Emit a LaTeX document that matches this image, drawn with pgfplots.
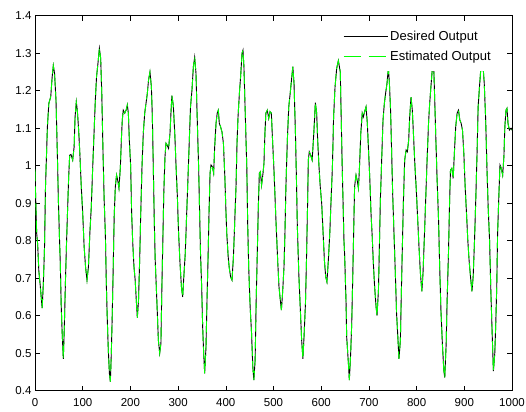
\documentclass[border=0pt]{standalone}
\usepackage{fontspec}
\setmainfont{Liberation Sans}
\usepackage{pgfplots}
\usepackage{pgfplotstable}
\pgfplotsset{compat=1.18}
\definecolor{estgreen}{RGB}{0,255,0}

% values (same curve for both series)
\pgfplotstableread{
t y
0 0.99
1 0.935
3.5 0.82
5.6 0.79
8 0.72
11 0.68
15 0.62
17.5 0.686
20 0.784
22 0.944
24 1.024
26 1.104
29 1.166
33 1.184
36 1.237
38.4 1.267
41 1.246
44 1.175
47 1.024
49 0.908
51 0.82
53 0.74
55 0.624
57 0.553
59.4 0.485
61.5 0.57
64 0.70
66 0.79
68.5 0.89
70.6 0.97
72.7 1.028
75.5 1.03
79 1.015
82 1.05
84 1.13
86.6 1.17
88.7 1.148
91.5 1.095
94 1.033
97 0.944
100 0.873
103 0.784
106 0.73
109 0.695
112 0.73
115 0.82
118 0.89
121 0.997
124 1.095
126.5 1.175
129 1.237
132 1.273
135 1.313
137.7 1.286
140 1.193
142.5 1.04
145 0.908
147.5 0.82
149.5 0.686
151.6 0.588
153.7 0.508
156 0.446
158 0.424
160 0.5
162 0.606
164 0.73
166 0.864
168.4 0.944
171 0.975
174 0.957
176 0.94
179 0.997
181 1.068
183 1.122
185 1.148
188 1.14
191 1.148
193.6 1.162
195.7 1.14
197.8 1.068
200.6 0.997
202.6 0.873
204.7 0.80
207.5 0.73
210 0.695
212.4 0.64
214.5 0.595
217 0.64
219.4 0.748
221.5 0.864
224.3 0.997
227 1.086
230 1.14
232.7 1.166
235.5 1.193
238 1.228
241 1.25
244 1.21
246 1.13
248 0.997
250 0.855
252 0.748
254 0.686
256.5 0.606
258.6 0.535
261.4 0.50
264 0.526
266 0.677
268 0.80
270 0.926
272.5 1.024
274.6 1.06
277 1.055
280 1.046
283 1.086
285 1.14
287 1.187
290 1.16
293 1.086
296 0.99
298.4 0.92
301 0.82
304 0.74
307 0.677
309.6 0.65
312 0.704
315 0.766
318 0.873
320.8 0.97
323.5 1.068
326 1.157
329 1.2
332 1.264
334.7 1.289
337.5 1.246
340 1.13
343 0.997
345 0.882
347 0.766
349.4 0.677
351.5 0.57
353.6 0.50
355.7 0.446
358.5 0.517
360.6 0.642
362.7 0.748
364.8 0.873
367 0.98
369 1.002
372 0.997
374.5 0.98
376.7 1.05
379.5 1.113
382 1.14
384.3 1.148
386.4 1.113
389 1.104
392 1.09
395 1.06
398 0.97
400 0.89
402 0.82
405 0.757
407 0.73
410 0.704
413 0.695
416 0.757
418.6 0.846
421.4 0.944
423.5 1.06
425.6 1.13
428.5 1.193
431.5 1.246
434 1.30
436 1.308
438 1.264
441 1.13
444 0.997
446 0.837
448 0.73
451 0.624
454 0.553
456.6 0.464
458.8 0.428
461.5 0.482
463.7 0.642
466 0.766
468 0.882
470.3 0.98
472.4 0.984
475 0.948
478 0.98
480 1.006
482 1.086
484 1.14
487 1.148
490 1.126
492.7 1.144
495.5 1.14
498 1.068
501 0.988
504 0.89
506 0.828
509 0.74
511.5 0.677
514.3 0.642
516.5 0.615
519 0.66
522 0.73
524 0.82
526 0.944
529 1.068
532 1.157
535 1.193
537.7 1.228
540.5 1.264
543 1.22
546 1.086
548 0.97
550 0.837
553 0.713
556 0.624
559 0.535
561.6 0.485
564 0.544
567 0.633
569 0.74
571.5 0.90
573 1.015
575 1.037
578 1.028
581 1.015
583.6 1.068
585.6 1.113
587.7 1.168
590.5 1.14
592.6 1.068
595.4 0.997
598 0.944
601 0.90
604 0.82
606.7 0.748
609.4 0.704
612 0.69
615 0.748
618 0.82
620.7 0.908
623.5 0.997
626 1.13
629 1.21
632.5 1.26
636 1.28
640 1.25
644 1.0
647.7 0.8
649 0.766
652 0.64
653.4 0.544
657 0.473
659 0.428
661.8 0.50
664 0.58
666 0.695
668 0.82
670 0.944
673 0.975
676 0.957
678 0.94
680 0.988
683 1.086
686 1.14
688.3 1.13
691 1.144
694 1.157
696.7 1.113
699.5 1.033
702 0.962
704.4 0.873
707 0.81
709.3 0.74
712 0.677
715 0.624
717 0.60
720 0.668
722 0.784
724 0.908
727 1.024
729.6 1.122
732.4 1.166
735 1.193
738 1.22
740.8 1.26
743 1.22
745.4 1.148
747.6 1.042
749.8 0.926
752.6 0.82
755.4 0.713
758 0.606
761 0.535
763 0.485
766 0.535
768 0.66
770 0.775
772 0.89
775 1.015
778 1.042
780.5 1.037
783.4 1.068
785.5 1.13
788.3 1.183
791 1.148
794 1.068
796.6 0.997
799.4 0.935
802 0.864
805 0.784
808 0.713
811 0.665
813.4 0.713
816 0.80
819 0.908
822 1.015
825 1.113
827.4 1.166
830 1.21
833 1.26
836 1.26
838 1.175
840 1.086
843 0.962
846 0.855
848.4 0.73
851 0.615
854 0.526
857 0.455
859 0.435
862 0.526
864 0.642
866.8 0.766
868.9 0.89
871 0.988
873.8 0.993
876.7 0.966
879.5 1.042
882 1.104
884.9 1.14
887.8 1.148
890.6 1.122
893.4 1.113
896.2 1.095
899 1.033
901.8 0.944
904.6 0.873
907.4 0.80
910 0.748
913 0.704
916 0.665
918.6 0.704
921.4 0.80
924 0.908
926.9 1.042
929 1.157
931.8 1.21
934.7 1.26
939.6 1.26
941.8 1.22
944.6 1.13
947.4 0.997
950 0.89
953 0.80
955.6 0.668
958.4 0.553
961 0.452
963.9 0.50
966 0.58
968 0.677
969.8 0.82
972.6 0.926
974.8 1.002
977.6 0.993
980.4 0.975
983 1.024
985 1.104
987.4 1.148
989.5 1.153
991.6 1.113
994.5 1.095
998 1.1
1000 1.095
}\outdata

\begin{document}
\begin{tikzpicture}
\begin{axis}[
    scale only axis,
    width=477bp, height=375bp,
    xmin=0, xmax=1000,
    ymin=0.4, ymax=1.4,
    xtick={0,100,200,300,400,500,600,700,800,900,1000},
    ytick={0.4,0.5,0.6,0.7,0.8,0.9,1,1.1,1.2,1.3,1.4},
    tick align=inside,
    major tick length=5bp,
    tick style={black, line width=0.6bp},
    axis line style={line width=0.7bp},
    tick label style={font=\fontsize{11.5bp}{13bp}\selectfont},
    xticklabel style={yshift=-4bp},
    /pgf/number format/assume math mode=true,
    /pgf/number format/1000 sep={},
    scaled ticks=false,
    legend style={at={(0.964,0.851)}, anchor=south east, draw=none, fill=white,
        inner xsep=2bp, inner ysep=7bp, row sep=5bp,
        font=\fontsize{13bp}{15bp}\selectfont},
    legend cell align=left,
]
\addplot[black, line width=0.9bp,
    legend image code/.code={\draw[black, line width=1bp] (0bp,0.5bp) -- (44bp,0.5bp);}]
    table {\outdata};
\addplot[estgreen, line width=0.9bp, dash pattern=on 12bp off 5bp,
    legend image code/.code={\draw[estgreen, line width=1bp, dash pattern=on 17bp off 8bp] (0bp,0.5bp) -- (44bp,0.5bp);}]
    table {\outdata};
\legend{Desired Output, Estimated Output}
\end{axis}
\pgfresetboundingbox
\path[use as bounding box] ([xshift=-35bp,yshift=-21.3bp]current axis.south west)
    rectangle ([xshift=14bp,yshift=15.7bp]current axis.north east);
\end{tikzpicture}
\end{document}
